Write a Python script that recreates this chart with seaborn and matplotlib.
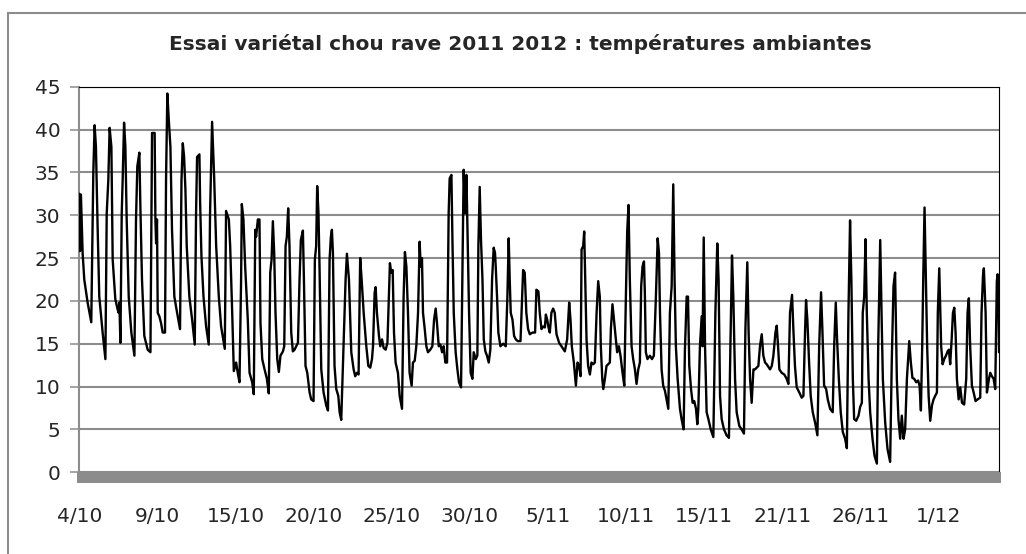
import matplotlib
matplotlib.use("Agg")
import matplotlib.pyplot as plt
import matplotlib.patches as mpatches
import seaborn as sns
import numpy as np
import pandas as pd

# Données : temps (jours depuis le 4/10) et température (°C)
jours = [
    0.00, 0.05, 0.11, 0.23, 0.34, 0.57, 0.82, 0.87, 0.96, 1.05, 1.14, 1.26, 1.37, 1.60, 1.79,
    1.88, 1.99, 2.08, 2.20, 2.29, 2.47, 2.63, 2.70, 2.75, 2.82, 2.91, 2.98, 3.07, 3.16, 3.25,
    3.39, 3.57, 3.78, 3.89, 3.98, 4.12, 4.19, 4.30, 4.46, 4.69, 4.88, 4.95, 4.99, 5.17, 5.22,
    5.27, 5.33, 5.38, 5.49, 5.61, 5.72, 5.88, 5.95, 6.04, 6.14, 6.25, 6.36, 6.52, 6.71, 6.91,
    7.01, 7.10, 7.19, 7.28, 7.37, 7.55, 7.74, 7.92, 8.01, 8.08, 8.24, 8.29, 8.38, 8.52, 8.70,
    8.88, 8.97, 9.11, 9.25, 9.39, 9.57, 9.73, 9.98, 10.07, 10.26, 10.35, 10.49, 10.60, 10.76, 10.87,
    10.99, 11.10, 11.15, 11.26, 11.38, 11.56, 11.68, 11.86, 11.97, 12.07, 12.13, 12.25, 12.36, 12.43, 12.55,
    12.71, 12.87, 13.00, 13.10, 13.19, 13.28, 13.37, 13.46, 13.58, 13.69, 13.80, 13.97, 14.06, 14.15, 14.24,
    14.33, 14.42, 14.54, 14.65, 14.77, 14.88, 15.00, 15.11, 15.20, 15.34, 15.41, 15.52, 15.64, 15.80, 15.91,
    16.07, 16.16, 16.25, 16.32, 16.41, 16.48, 16.60, 16.76, 16.94, 17.06, 17.17, 17.26, 17.33, 17.40, 17.51,
    17.63, 17.77, 17.86, 17.97, 18.13, 18.27, 18.36, 18.50, 18.66, 18.82, 18.93, 19.05, 19.16, 19.27, 19.37,
    19.51, 19.69, 19.83, 19.96, 20.08, 20.15, 20.26, 20.33, 20.42, 20.56, 20.65, 20.77, 20.88, 21.02, 21.14,
    21.25, 21.31, 21.40, 21.50, 21.59, 21.70, 21.86, 21.98, 22.14, 22.25, 22.34, 22.44, 22.55, 22.66, 22.80,
    22.89, 23.01, 23.12, 23.24, 23.35, 23.42, 23.51, 23.58, 23.70, 23.81, 23.92, 24.08, 24.22, 24.34, 24.45,
    24.54, 24.66, 24.77, 24.89, 25.00, 25.11, 25.23, 25.34, 25.41, 25.53, 25.60, 25.69, 25.82, 25.94, 26.05,
    26.19, 26.28, 26.37, 26.47, 26.56, 26.65, 26.74, 26.85, 26.97, 27.06, 27.20, 27.31, 27.38, 27.47, 27.56,
    27.66, 27.75, 27.86, 27.97, 28.09, 28.20, 28.32, 28.43, 28.52, 28.57, 28.66, 28.75, 28.89, 29.08, 29.26,
    29.37, 29.46, 29.53, 29.60, 29.72, 29.83, 29.95, 30.08, 30.27, 30.38, 30.45, 30.56, 30.67, 30.79, 30.91,
    31.09, 31.27, 31.36, 31.50, 31.59, 31.71, 31.82, 31.94, 32.01, 32.10, 32.19, 32.28, 32.39, 32.51, 32.62,
    32.74, 32.92, 33.08, 33.31, 33.47, 33.61, 33.70, 33.79, 33.93, 34.07, 34.18, 34.29, 34.39, 34.46, 34.57,
    34.64, 34.71, 34.80, 34.91, 35.03, 35.14, 35.26, 35.37, 35.49, 35.60, 35.71, 35.78, 35.88, 35.95, 36.06,
    36.17, 36.29, 36.40, 36.47, 36.58, 36.68, 36.79, 36.90, 37.02, 37.13, 37.27, 37.39, 37.50, 37.59, 37.68,
    37.77, 37.89, 38.00, 38.12, 38.23, 38.35, 38.46, 38.55, 38.64, 38.74, 38.80, 38.87, 38.98, 39.15, 39.29,
    39.42, 39.56, 39.68, 39.77, 39.84, 39.95, 40.06, 40.18, 40.29, 40.41, 40.52, 40.64, 40.75, 40.84, 40.93,
    41.05, 41.21, 41.32, 41.46, 41.55, 41.67, 41.76, 41.85, 41.97, 42.08, 42.19, 42.31, 42.40, 42.47, 42.58,
    42.70, 42.76, 42.84, 42.93, 43.04, 43.16, 43.32, 43.50, 43.64, 43.77, 43.86, 43.96, 44.07, 44.23, 44.41,
    44.57, 44.67, 44.78, 44.87, 44.99, 45.10, 45.28, 45.44, 45.60, 45.70, 45.83, 45.92, 46.02, 46.13, 46.25,
    46.36, 46.47, 46.59, 46.70, 46.82, 46.93, 47.05, 47.16, 47.39, 47.51, 47.62, 47.76, 47.85, 47.94, 48.03,
    48.19, 48.37, 48.53, 48.65, 48.76, 48.90, 48.99, 49.10, 49.22, 49.40, 49.56, 49.68, 49.79, 49.86, 49.95,
    50.07, 50.18, 50.32, 50.48, 50.64, 50.76, 50.89, 50.98, 51.10, 51.24, 51.35, 51.51, 51.69, 51.79, 51.90,
    51.99, 52.11, 52.24, 52.38, 52.54, 52.66, 52.77, 52.88, 52.97, 53.07, 53.16, 53.30, 53.46, 53.57, 53.69,
    53.75, 53.85, 53.94, 54.03, 54.15, 54.26, 54.42, 54.56, 54.72, 54.81, 54.95, 55.04, 55.13, 55.29, 55.45,
    55.63, 55.74, 55.86, 55.97, 56.09, 56.20, 56.32, 56.43, 56.55, 56.66, 56.78, 56.94, 57.05, 57.16, 57.28,
    57.42, 57.55, 57.65, 57.74, 57.83, 57.90, 57.99, 58.08, 58.17, 58.27, 58.38, 58.50, 58.61, 58.72, 58.84,
    58.90, 59.00, 59.07, 59.13, 59.23, 59.34, 59.46, 59.57, 59.66, 59.75, 59.85, 59.94, 60.03, 60.12, 60.21,
    60.33, 60.44, 60.56, 60.71, 60.85, 60.94, 61.03, 61.12, 61.24, 61.36, 61.49, 61.63, 61.81, 61.90, 62.00,
    62.06, 62.18, 62.27, 62.41, 62.50, 62.61, 62.73, 62.84, 62.95, 63.00, 63.05, 63.10,
]

temperatures = [
    32.5, 25.8, 32.4, 25.5, 22.5, 19.8, 17.5, 24.0, 34.9, 40.5, 38.0, 28.3, 20.5, 16.3, 13.2,
    30.2, 34.1, 40.2, 38.0, 24.8, 20.2, 19.0, 18.6, 19.8, 15.1, 30.2, 34.5, 40.8, 38.0, 29.5,
    20.5, 16.3, 13.6, 29.5, 35.7, 37.3, 31.0, 22.5, 15.9, 14.3, 14.0, 31.4, 39.6, 39.6, 29.5,
    26.7, 29.5, 18.6, 18.2, 17.4, 16.3, 16.3, 34.1, 44.2, 41.1, 38.0, 28.3, 20.5, 18.6, 16.7,
    34.1, 38.4, 36.8, 33.0, 26.4, 20.5, 17.8, 14.9, 30.2, 36.8, 37.1, 31.4, 25.2, 20.5, 17.0,
    14.9, 30.2, 40.9, 34.5, 26.4, 20.5, 17.0, 14.4, 30.5, 29.5, 26.4, 18.6, 11.8, 12.8, 11.6,
    10.5, 22.5, 31.3, 29.5, 24.0, 17.8, 11.6, 10.5, 9.1, 28.3, 27.5, 29.5, 29.5, 17.4, 13.2,
    12.0, 10.9, 9.2, 23.3, 24.8, 29.3, 25.6, 18.6, 13.2, 11.7, 13.6, 14.1, 14.7, 26.4, 27.5,
    30.8, 26.4, 16.3, 14.1, 14.3, 14.7, 15.1, 22.5, 27.1, 28.2, 22.5, 12.4, 11.6, 9.3, 8.5,
    8.3, 24.8, 26.4, 33.4, 30.2, 24.0, 12.0, 9.3, 7.8, 7.2, 24.8, 27.5, 28.3, 25.6, 12.4,
    9.7, 8.9, 7.0, 6.1, 14.7, 22.5, 25.5, 22.5, 14.0, 12.0, 11.2, 11.6, 11.4, 25.0, 22.5,
    18.6, 14.7, 12.4, 12.2, 13.2, 14.7, 20.9, 21.6, 18.6, 15.9, 14.7, 15.5, 14.5, 14.3, 15.1,
    20.9, 24.4, 23.3, 23.6, 16.3, 12.8, 11.6, 8.9, 7.4, 20.5, 25.7, 24.0, 18.6, 11.6, 10.1,
    12.8, 13.0, 14.7, 18.6, 26.9, 24.0, 25.0, 18.6, 16.7, 14.7, 14.0, 14.3, 14.7, 17.8, 19.1,
    17.4, 14.7, 14.9, 14.0, 14.7, 12.8, 12.8, 30.2, 34.3, 34.7, 27.1, 18.6, 14.0, 12.0, 10.5,
    9.9, 22.5, 35.3, 30.2, 34.7, 26.4, 18.6, 11.6, 10.9, 14.0, 13.2, 13.6, 26.4, 33.3, 27.1,
    22.5, 15.5, 14.1, 13.6, 12.8, 14.3, 22.5, 26.2, 25.6, 24.0, 20.5, 16.3, 14.7, 15.0, 14.7,
    20.5, 27.3, 22.5, 18.6, 17.8, 15.9, 15.5, 15.3, 15.3, 20.5, 23.6, 23.3, 18.6, 16.7, 16.1,
    16.3, 16.3, 21.3, 21.1, 18.6, 16.7, 17.0, 16.9, 18.4, 17.8, 16.9, 16.3, 18.6, 19.1, 18.6,
    16.1, 15.1, 14.7, 14.1, 15.5, 19.8, 17.8, 14.7, 12.8, 10.1, 12.8, 12.4, 11.2, 26.0, 26.4,
    28.1, 22.5, 15.5, 12.4, 11.4, 12.8, 12.6, 12.8, 18.6, 22.3, 20.5, 14.7, 10.9, 9.7, 10.9,
    12.4, 12.6, 12.8, 16.7, 19.6, 17.8, 15.9, 14.0, 14.7, 13.6, 11.6, 10.1, 20.5, 28.1, 31.2,
    22.5, 14.7, 13.2, 12.0, 10.3, 12.0, 12.8, 21.7, 24.0, 24.6, 21.0, 14.0, 13.2, 13.6, 13.2,
    13.6, 20.5, 27.3, 25.6, 18.6, 12.0, 10.1, 9.5, 8.5, 7.4, 18.6, 21.7, 33.6, 22.5, 14.7,
    10.9, 7.4, 6.2, 5.0, 14.3, 20.5, 20.5, 12.4, 9.7, 8.1, 8.3, 7.4, 5.6, 7.4, 14.7,
    18.2, 14.7, 27.4, 14.7, 7.0, 6.2, 5.0, 4.1, 18.6, 26.7, 22.5, 8.9, 6.2, 5.0, 4.3,
    4.0, 14.7, 25.3, 20.5, 10.9, 7.0, 5.4, 5.0, 4.5, 16.7, 24.5, 16.3, 10.9, 8.1, 12.0,
    12.0, 12.2, 12.4, 14.7, 16.1, 13.6, 12.8, 12.6, 12.0, 12.4, 13.6, 16.3, 17.1, 14.7, 12.0,
    11.6, 11.4, 10.9, 10.3, 18.6, 20.7, 16.7, 12.4, 9.9, 9.3, 8.7, 8.9, 16.3, 20.1, 17.8,
    12.8, 8.9, 7.0, 5.8, 4.3, 14.7, 21.0, 16.7, 10.1, 9.7, 8.5, 7.4, 7.0, 14.7, 19.8,
    15.5, 10.9, 7.0, 4.7, 3.9, 2.8, 18.6, 29.4, 22.5, 10.9, 6.2, 6.0, 6.6, 7.6, 8.1,
    18.6, 20.5, 27.2, 18.6, 10.9, 7.0, 3.9, 1.9, 1.0, 14.7, 27.1, 18.6, 10.9, 5.8, 2.7,
    1.2, 12.8, 21.7, 23.3, 10.9, 6.2, 3.9, 6.6, 3.9, 5.0, 10.9, 15.3, 12.8, 11.0, 10.9,
    10.5, 10.7, 10.1, 7.2, 14.7, 22.5, 30.9, 22.5, 14.7, 8.9, 6.0, 7.8, 8.5, 8.9, 9.3,
    18.6, 23.8, 18.6, 14.7, 12.6, 13.2, 13.6, 14.1, 14.3, 12.6, 15.5, 18.6, 19.2, 16.3, 10.9,
    8.5, 9.9, 8.1, 7.9, 10.9, 18.6, 20.3, 14.7, 10.1, 9.3, 8.3, 8.5, 8.7, 18.6, 22.9,
    23.8, 18.6, 9.3, 10.9, 11.6, 11.2, 10.9, 9.7, 22.3, 23.1, 22.5, 14.0,
]

dates_labels = ['4/10', '9/10', '15/10', '20/10', '25/10', '30/10',
                '5/11', '10/11', '15/11', '21/11', '26/11', '1/12']
pas_etiquette = 5.36  # jours entre deux étiquettes de l'axe
y_ticks = list(range(0, 50, 5))

df = pd.DataFrame({'jour': jours, 'temperature': temperatures})

sns.set_style("white")
plt.rcParams['font.family'] = ['DejaVu Sans']

gris = '#8c8c8c'
fig = plt.figure(figsize=(10.26, 5.54), dpi=100)
ax = fig.add_axes([0.0773, 0.1276, 0.8964, 0.7159])

sns.lineplot(data=df, x='jour', y='temperature', color='black', linewidth=1.7,
             sort=False, estimator=None, ax=ax, zorder=3)

ax.set_xlim(0, 63.1)
ax.set_ylim(-1.3, 45)
ax.set_yticks(y_ticks)
ax.set_xticks(np.arange(len(dates_labels)) * pas_etiquette)
ax.set_xticklabels(dates_labels)
ax.set_xlabel('')
ax.set_ylabel('')

ax.yaxis.grid(True, color=gris, linewidth=1.5)
ax.xaxis.grid(False)
ax.set_axisbelow(True)

ax.tick_params(axis='y', length=6.7, width=1.1, color=gris, pad=7, labelsize=14.5, left=True)
ax.tick_params(axis='x', length=0, pad=17, labelsize=14.5)

ax.spines['left'].set_color(gris)
ax.spines['left'].set_linewidth(1.5)
ax.spines['left'].set_bounds(0, 45)
ax.spines['top'].set_color('black')
ax.spines['top'].set_linewidth(0.8)
ax.spines['right'].set_color('black')
ax.spines['right'].set_linewidth(0.8)
ax.spines['right'].set_bounds(0, 45)
ax.spines['bottom'].set_visible(False)

# plancher gris sous la valeur 0
ax.add_patch(mpatches.Rectangle((-0.002, 0), 1.004, 1.3 / 46.3, transform=ax.transAxes,
                                facecolor=gris, edgecolor='none', clip_on=False, zorder=4))

fig.text(0.507, 1 - 43.7 / 554, 'Essai variétal chou rave 2011 2012 : températures ambiantes',
         ha='center', va='center', fontsize=14.5, fontweight='bold', family='DejaVu Sans')

# cadre du graphique
fig.patches.append(mpatches.Rectangle((8.3 / 1026, -0.1), 1.2, 1.1 - 12.7 / 554,
                                      transform=fig.transFigure, fill=False,
                                      edgecolor=gris, linewidth=1.5))

fig.savefig('out.png', dpi=100)
